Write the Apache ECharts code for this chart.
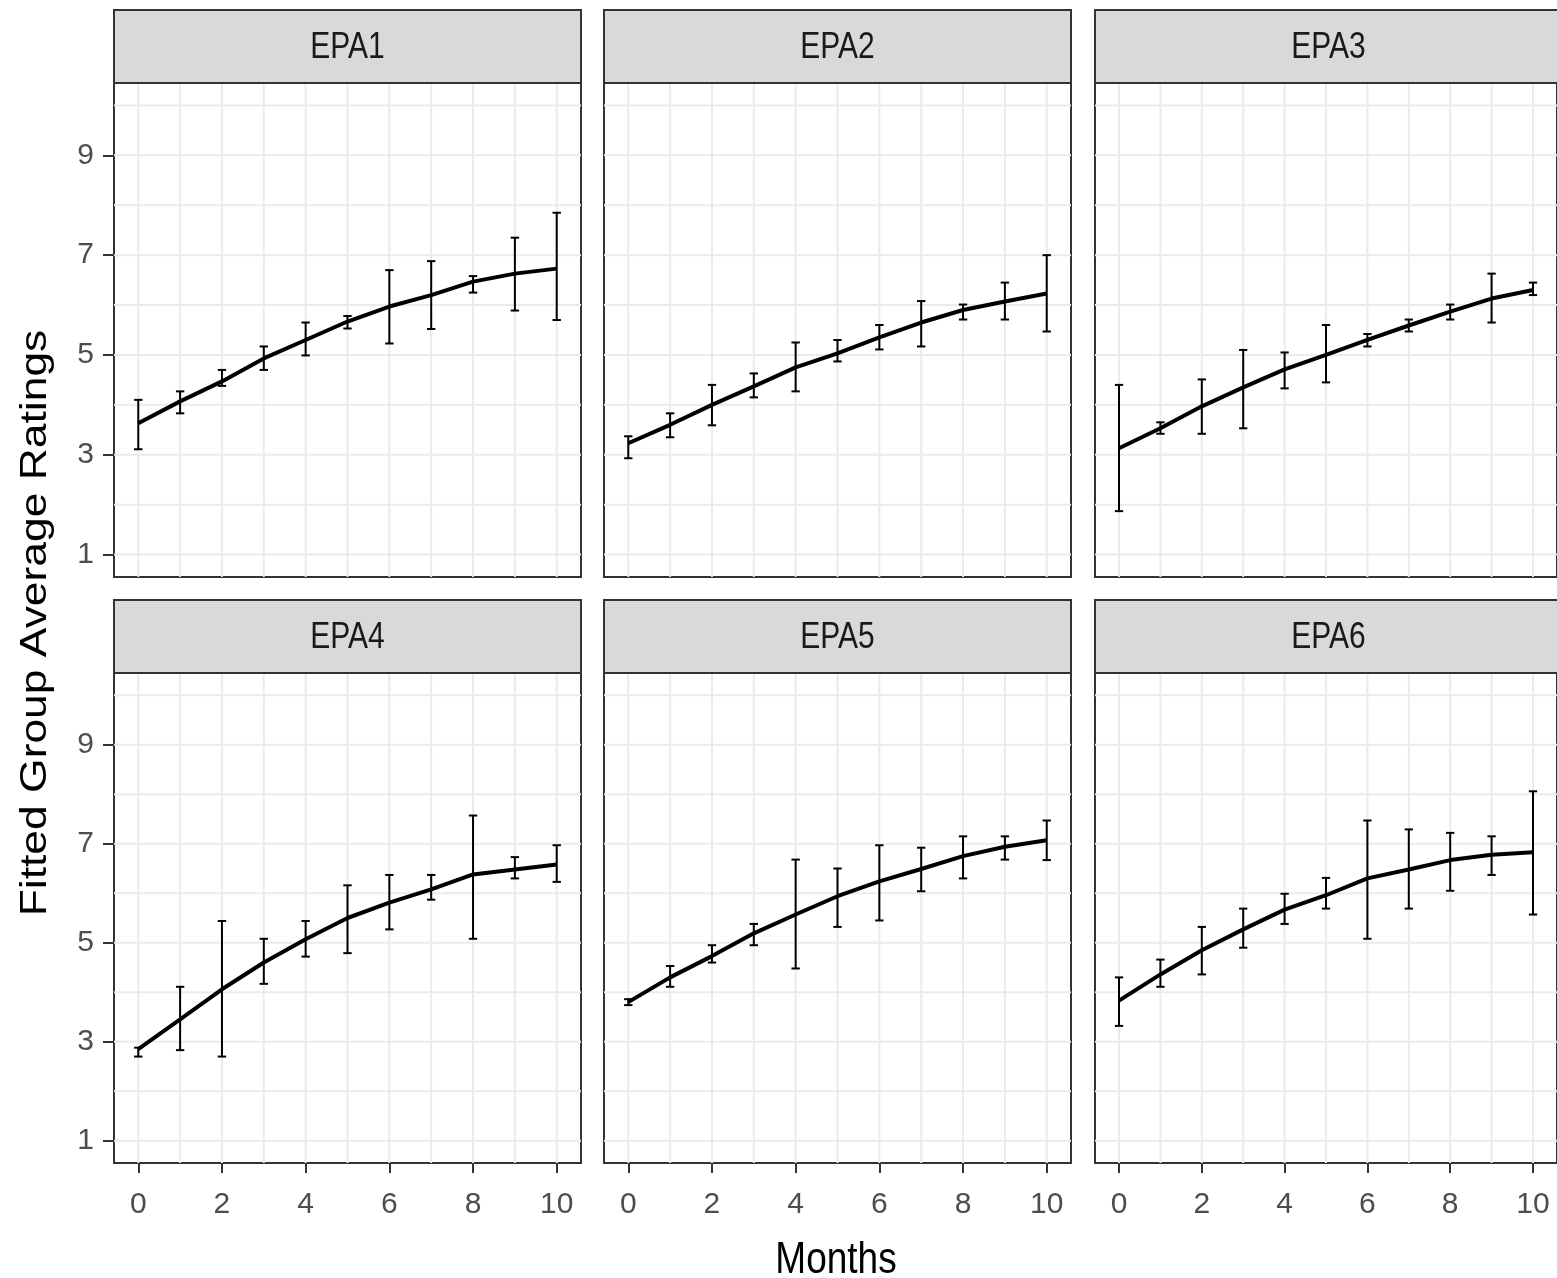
<!DOCTYPE html>
<html>
<head>
<meta charset="utf-8">
<title>Fitted Group Average Ratings</title>
<script src="https://cdn.jsdelivr.net/npm/echarts@6/dist/echarts.min.js"></script>
<style>
  html, body { margin: 0; padding: 0; background: #fff; }
  #chart { width: 1557px; height: 1278px; }
</style>
</head>
<body>
<div id="chart"></div>
<script>
// x values (months) and facet names
const months = [0, 1, 2, 3, 4, 5, 6, 7, 8, 9, 10];
const panelNames = ["EPA1", "EPA2", "EPA3", "EPA4", "EPA5", "EPA6"];

// fitted curve + lower / upper ends of the error bars
const fitEPA1 = [3.63, 4.07, 4.47, 4.93, 5.30, 5.67, 5.97, 6.20, 6.47, 6.63, 6.73];
const loEPA1 = [3.11, 3.83, 4.38, 4.70, 4.99, 5.53, 5.23, 5.52, 6.25, 5.89, 5.70];
const hiEPA1 = [4.10, 4.27, 4.70, 5.17, 5.65, 5.78, 6.70, 6.88, 6.58, 7.35, 7.85];

const fitEPA2 = [3.23, 3.60, 4.00, 4.37, 4.75, 5.03, 5.35, 5.65, 5.90, 6.07, 6.23];
const loEPA2 = [2.93, 3.35, 3.59, 4.15, 4.27, 4.87, 5.11, 5.17, 5.71, 5.71, 5.47];
const hiEPA2 = [3.37, 3.83, 4.40, 4.63, 5.25, 5.30, 5.60, 6.08, 6.01, 6.45, 7.00];

const fitEPA3 = [3.13, 3.53, 3.97, 4.35, 4.71, 5.00, 5.30, 5.59, 5.87, 6.13, 6.30];
const loEPA3 = [1.87, 3.42, 3.42, 3.53, 4.33, 4.45, 5.17, 5.47, 5.71, 5.65, 6.20];
const hiEPA3 = [4.40, 3.65, 4.51, 5.10, 5.05, 5.60, 5.42, 5.71, 6.01, 6.63, 6.45];

const fitEPA4 = [2.85, 3.45, 4.06, 4.60, 5.07, 5.50, 5.81, 6.08, 6.38, 6.48, 6.58];
const loEPA4 = [2.70, 2.83, 2.70, 4.17, 4.72, 4.79, 5.27, 5.87, 5.08, 6.30, 6.23];
const hiEPA4 = [2.88, 4.11, 5.44, 5.08, 5.44, 6.16, 6.37, 6.37, 7.57, 6.73, 6.97];

const fitEPA5 = [3.80, 4.30, 4.73, 5.19, 5.57, 5.94, 6.24, 6.49, 6.75, 6.94, 7.07];
const loEPA5 = [3.74, 4.11, 4.60, 4.95, 4.48, 5.32, 5.45, 6.04, 6.30, 6.68, 6.67];
const hiEPA5 = [3.86, 4.53, 4.95, 5.38, 6.68, 6.50, 6.97, 6.92, 7.15, 7.15, 7.47];

const fitEPA6 = [3.83, 4.36, 4.85, 5.27, 5.67, 5.96, 6.30, 6.48, 6.67, 6.78, 6.83];
const loEPA6 = [3.32, 4.11, 4.36, 4.90, 5.38, 5.69, 5.08, 5.69, 6.05, 6.37, 5.57];
const hiEPA6 = [4.30, 4.66, 5.32, 5.69, 5.99, 6.31, 7.47, 7.29, 7.22, 7.15, 8.06];

const fits = [fitEPA1, fitEPA2, fitEPA3, fitEPA4, fitEPA5, fitEPA6];
const lows = [loEPA1, loEPA2, loEPA3, loEPA4, loEPA5, loEPA6];
const highs = [hiEPA1, hiEPA2, hiEPA3, hiEPA4, hiEPA5, hiEPA6];

// tick labels and grid lines
const xTickLabels = [0, 2, 4, 6, 8, 10];
const yTickLabels = [1, 3, 5, 7, 9];
const xGridLines = [0, 1, 2, 3, 4, 5, 6, 7, 8, 9, 10];
const yGridLines = [1, 2, 3, 4, 5, 6, 7, 8, 9, 10];

const FONT = "Liberation Sans, Arial, sans-serif";
const colLeft = [114, 604, 1095];
const panelW = 467;
const rowTop = [83, 673];
const rowH = [494, 490];
const stripH = 73;
const capHalf = 0.1;

let myChart = echarts.init(document.getElementById("chart"));

let grids = [], xAxes = [], yAxes = [], series = [], graphics = [];

//网格线
function gridLineRender(params, api) {
  const v = api.value(0);
  const vertical = api.value(1) === 0;
  const cs = params.coordSys;
  if (vertical) {
    const px = api.coord([v, 5])[0];
    return { type: "line", shape: { x1: px, y1: cs.y, x2: px, y2: cs.y + cs.height }, style: { stroke: "#ebebeb", lineWidth: 2 } };
  }
  const py = api.coord([0, v])[1];
  return { type: "line", shape: { x1: cs.x, y1: py, x2: cs.x + cs.width, y2: py }, style: { stroke: "#ebebeb", lineWidth: 2 } };
}

//误差线
function errorBarRender(params, api) {
  const x = api.value(0);
  const lo = api.coord([x, api.value(1)]);
  const hi = api.coord([x, api.value(2)]);
  const loL = api.coord([x - capHalf, api.value(1)]);
  const loR = api.coord([x + capHalf, api.value(1)]);
  const hiL = api.coord([x - capHalf, api.value(2)]);
  const hiR = api.coord([x + capHalf, api.value(2)]);
  const style = { stroke: "#000", lineWidth: 2 };
  return {
    type: "group",
    children: [
      { type: "line", shape: { x1: lo[0], y1: lo[1], x2: hi[0], y2: hi[1] }, style: style },
      { type: "line", shape: { x1: loL[0], y1: loL[1], x2: loR[0], y2: loR[1] }, style: style },
      { type: "line", shape: { x1: hiL[0], y1: hiL[1], x2: hiR[0], y2: hiR[1] }, style: style },
    ],
  };
}

const gridData = xGridLines.map((v) => [v, 0]).concat(yGridLines.map((v) => [v, 1]));

panelNames.forEach((name, i) => {
  const row = Math.floor(i / 3);
  const col = i % 3;
  const left = colLeft[col];
  const top = rowTop[row];
  const bottomRow = row === 1;
  const firstCol = col === 0;

  grids.push({
    left: left, top: top, width: panelW, height: rowH[row],
    show: true, borderColor: "#333333", borderWidth: 2, backgroundColor: "transparent",
  });

  xAxes.push({
    type: "value", gridIndex: i, min: -0.58, max: 10.58,
    axisLine: { show: false, onZero: false },
    splitLine: { show: false },
    axisTick: { show: bottomRow, customValues: xTickLabels, length: 10, lineStyle: { color: "#333333", width: 2 } },
    axisLabel: { show: bottomRow, customValues: xTickLabels, margin: 27, fontSize: 30, color: "#4d4d4d", fontFamily: FONT },
  });

  yAxes.push({
    type: "value", gridIndex: i, min: 0.55, max: 10.45,
    axisLine: { show: false, onZero: false },
    splitLine: { show: false },
    axisTick: { show: firstCol, customValues: yTickLabels, length: 11, lineStyle: { color: "#333333", width: 2 } },
    axisLabel: { show: firstCol, customValues: yTickLabels, margin: 20, fontSize: 30, color: "#4d4d4d", fontFamily: FONT },
  });

  series.push({
    type: "custom", xAxisIndex: i, yAxisIndex: i, z: 1, silent: true,
    renderItem: gridLineRender, data: gridData,
  });
  series.push({
    name: name, type: "line", xAxisIndex: i, yAxisIndex: i, z: 3,
    showSymbol: false, symbol: "none",
    lineStyle: { color: "#000", width: 4 },
    data: months.map((m, k) => [m, fits[i][k]]),
  });
  series.push({
    type: "custom", xAxisIndex: i, yAxisIndex: i, z: 4,
    renderItem: errorBarRender,
    data: months.map((m, k) => [m, lows[i][k], highs[i][k]]),
  });

  // facet strip
  graphics.push({
    type: "rect", z: 10,
    shape: { x: left, y: top - stripH, width: panelW, height: stripH },
    style: { fill: "#d9d9d9", stroke: "#333333", lineWidth: 2 },
  });
  graphics.push({
    type: "text", z: 11, x: left + panelW / 2, y: top - stripH / 2 + 2, scaleY: 1.2,
    style: { text: name, fontSize: 30, fill: "#1a1a1a", align: "center", verticalAlign: "middle", fontFamily: FONT },
  });
});

// axis titles
graphics.push({
  type: "text", z: 11, x: 36, y: 623, rotation: Math.PI / 2, scaleX: 1.2,
  style: { text: "Fitted Group Average Ratings", fontSize: 37, fill: "#000", align: "center", verticalAlign: "middle", fontFamily: FONT },
});
graphics.push({
  type: "text", z: 11, x: 836, y: 1261, scaleY: 1.2,
  style: { text: "Months", fontSize: 37, fill: "#000", align: "center", verticalAlign: "middle", fontFamily: FONT },
});

let option = {
  backgroundColor: "#ffffff",
  animation: false,
  grid: grids,
  xAxis: xAxes,
  yAxis: yAxes,
  series: series,
  graphic: graphics,
};
myChart.setOption(option);
</script>
</body>
</html>
